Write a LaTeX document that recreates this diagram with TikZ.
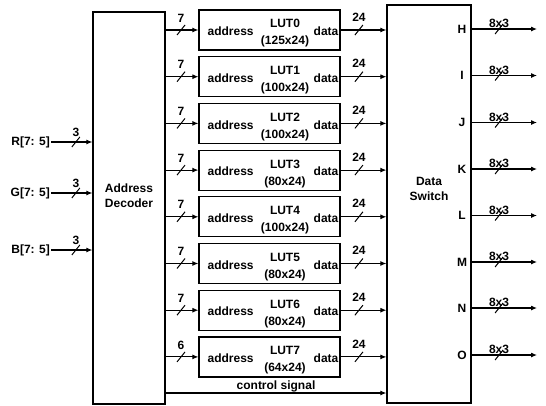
\documentclass[tikz,border=0pt]{standalone}
\usepackage{fontspec}
\setmainfont{Liberation Sans}
\usetikzlibrary{
  arrows.meta,
  positioning,
  decorations.markings
}
\tikzset{
  blk/.style={
    rectangle, draw, line width=1.2pt, inner sep=0pt
  },
  lbl/.style={
    font=\fontsize{12}{14.5}\selectfont\bfseries,
    align=center, inner sep=1pt
  },
  lut/.style={
    blk, minimum width=141pt, minimum height=40pt,
    label={[lbl, anchor=west, xshift=8pt, yshift=-1.5pt]west:address},
    label={[lbl, anchor=east, xshift=-1pt, yshift=-1.5pt]east:data},
    label={[lbl, font=\fontsize{12}{17}\selectfont\bfseries,
            xshift=15.5pt, yshift=-3.5pt]center:#1}
  },
  arr/.style={-{Latex[length=6pt,width=5pt]}, line width=1.1pt},
  % bus line: position of the slash, width label, label height
  bus/.style n args={3}{
    arr, postaction={decorate},
    decoration={markings, mark=at position #1 with {
      \draw[-, line width=1pt] (-4pt,-5pt) -- (4pt,5pt);
      \node[lbl] at (0,#3) {#2};}}
  }
}

\begin{document}
\begin{tikzpicture}[x=1pt, y=-1pt]
    \useasboundingbox (0,0) rectangle (546,405);

    %% ---- decoder and switch --------------------------------------
    \node[blk, minimum width=72pt, minimum height=392pt] (dec) at (129,208) {};
    \node[lbl] (dect) at (129,195.5) {Address\\Decoder};
    \node[blk, minimum width=84pt, minimum height=398pt] (sw) at (429,204) {};
    \node[lbl] (swt) at (429,189) {Data\\Switch};

    %% ---- look-up tables ------------------------------------------
    \node[lut={LUT0\\(125x24)}] (l0) at (269.5,30) {};
    \node[lut={LUT1\\(100x24)}] (l1) at (269.5,76.7) {};
    \node[lut={LUT2\\(100x24)}] (l2) at (269.5,123.4) {};
    \node[lut={LUT3\\(80x24)}]  (l3) at (269.5,170.1) {};
    \node[lut={LUT4\\(100x24)}] (l4) at (269.5,216.8) {};
    \node[lut={LUT5\\(80x24)}]  (l5) at (269.5,263.5) {};
    \node[lut={LUT6\\(80x24)}]  (l6) at (269.5,310.2) {};
    \node[lut={LUT7\\(64x24)}]  (l7) at (269.5,356.9) {};

    %% ---- inputs --------------------------------------------------
    \node[lbl, anchor=east] (r) at (51,142) {R[7: 5]};
    \node[lbl, anchor=east] (g) at (51,193) {G[7: 5]};
    \node[lbl, anchor=east] (b) at (51,250) {B[7: 5]};

    \draw[bus={0.6}{3}{10pt}] (r.east) -- (r.east -| dec.west);
    \draw[bus={0.6}{3}{10pt}] (g.east) -- (g.east -| dec.west);
    \draw[bus={0.6}{3}{10pt}] (b.east) -- (b.east -| dec.west);

    %% ---- decoder to tables ---------------------------------------
    \draw[bus={0.47}{7}{12pt}] (l0.west -| dec.east) -- (l0.west);
    \draw[bus={0.47}{7}{12pt}] (l1.west -| dec.east) -- (l1.west);
    \draw[bus={0.47}{7}{12pt}] (l2.west -| dec.east) -- (l2.west);
    \draw[bus={0.47}{7}{12pt}] (l3.west -| dec.east) -- (l3.west);
    \draw[bus={0.47}{7}{12pt}] (l4.west -| dec.east) -- (l4.west);
    \draw[bus={0.47}{7}{12pt}] (l5.west -| dec.east) -- (l5.west);
    \draw[bus={0.47}{7}{12pt}] (l6.west -| dec.east) -- (l6.west);
    \draw[bus={0.47}{6}{12pt}] (l7.west -| dec.east) -- (l7.west);

    %% ---- tables to switch ----------------------------------------
    \draw[bus={0.4}{24}{13pt}] (l0.east) -- (l0.east -| sw.west);
    \draw[bus={0.4}{24}{13pt}] (l1.east) -- (l1.east -| sw.west);
    \draw[bus={0.4}{24}{13pt}] (l2.east) -- (l2.east -| sw.west);
    \draw[bus={0.4}{24}{13pt}] (l3.east) -- (l3.east -| sw.west);
    \draw[bus={0.4}{24}{13pt}] (l4.east) -- (l4.east -| sw.west);
    \draw[bus={0.4}{24}{13pt}] (l5.east) -- (l5.east -| sw.west);
    \draw[bus={0.4}{24}{13pt}] (l6.east) -- (l6.east -| sw.west);
    \draw[bus={0.4}{24}{13pt}] (l7.east) -- (l7.east -| sw.west);

    %% ---- outputs -------------------------------------------------
    \coordinate (end) at (537,0);
    \node[lbl] (oh) at (462,29) {H};
    \node[lbl] (oi) at (462,75.5) {I};
    \node[lbl] (oj) at (462,122.5) {J};
    \node[lbl] (ok) at (462,169) {K};
    \node[lbl] (ol) at (462,215.5) {L};
    \node[lbl] (om) at (462,262) {M};
    \node[lbl] (on) at (462,308) {N};
    \node[lbl] (oo) at (462,355) {O};

    \draw[bus={0.42}{8x3}{5.5pt}] (oh -| sw.east) -- (oh -| end);
    \draw[bus={0.42}{8x3}{5.5pt}] (oi -| sw.east) -- (oi -| end);
    \draw[bus={0.42}{8x3}{5.5pt}] (oj -| sw.east) -- (oj -| end);
    \draw[bus={0.42}{8x3}{5.5pt}] (ok -| sw.east) -- (ok -| end);
    \draw[bus={0.42}{8x3}{5.5pt}] (ol -| sw.east) -- (ol -| end);
    \draw[bus={0.42}{8x3}{5.5pt}] (om -| sw.east) -- (om -| end);
    \draw[bus={0.42}{8x3}{5.5pt}] (on -| sw.east) -- (on -| end);
    \draw[bus={0.42}{8x3}{5.5pt}] (oo -| sw.east) -- (oo -| end);

    %% ---- control signal ------------------------------------------
    \coordinate (ctl) at (0,393);
    \draw[arr] (dec.east |- ctl) -- node[lbl, above=-0.5pt] {control signal}
      (sw.west |- ctl);

\end{tikzpicture}
\end{document}
